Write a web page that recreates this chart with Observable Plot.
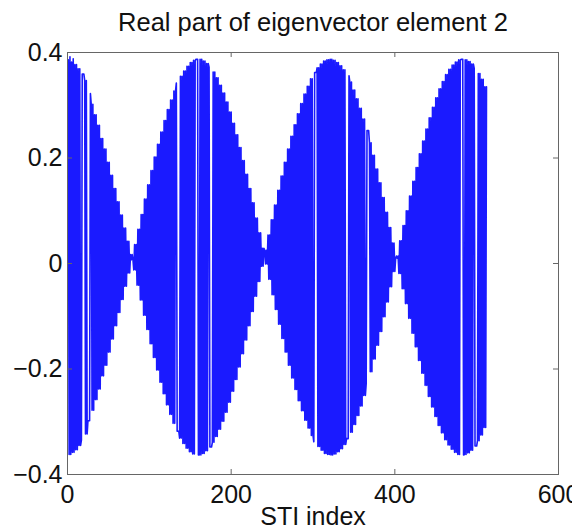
<!DOCTYPE html>
<html><head><meta charset="utf-8">
<script src="https://cdn.jsdelivr.net/npm/d3@7"></script>
<script src="https://cdn.jsdelivr.net/npm/@observablehq/plot@0.6"></script>
<style>
html,body{margin:0;padding:0;background:#fff;}
#chart svg{display:block;}
</style></head><body><div id="chart"></div>
<script>
const title = "Real part of eigenvector element 2";
const xLabel = "STI index";
const xTicks = [0, 200, 400, 600];
const yTicks = [-0.4, -0.2, 0, 0.2, 0.4];
const yTickLabels = ["\u22120.4", "\u22120.2", "0", "0.2", "0.4"];
const xTickLabels = ["0", "200", "400", "600"];
// Real part of eigenvector element 2 for STI index 1..512
const eigReal = [
.386,-.362,.392,-.362, .382,-.358,.388,-.358, .377,-.353,.377,-.353, .369,-.345,.369,-.345,
-.335,.359,.359,.359, .347,-.323,.347,-.323, -.298,-.298,-.298,.322, .302,-.278,.302,-.278,
.282,-.258,.282,-.258, .262,-.238,.262,-.238, .237,-.213,.237,-.213, .217,-.193,.217,-.193,
.192,-.168,.192,-.168, .167,-.143,.167,-.143, .142,-.118,.142,-.118, .117,-.093,.117,-.093,
.092,-.068,.092,-.068, .067,-.043,.067,-.043, .042,-.018,.042,-.018, .017,.007,.017,.007,
-.012,.036,-.012,.036, -.041,.065,-.041,.065, -.069,.093,-.069,.093, -.098,.122,-.098,.122,
-.125,.149,-.125,.149, -.152,.176,-.152,.176, -.178,.202,-.178,.202, -.202,.226,-.202,.226,
-.225,.249,-.225,.249, -.247,.271,-.247,.271, -.268,.292,-.268,.292, -.286,.310,-.286,.310,
-.303,.327,-.303,.327, .342,-.318,-.318,-.318, -.331,.355,-.331,.355, -.341,.365,-.341,.365,
-.350,.374,-.350,.374, -.357,.381,-.357,.381, -.361,.385,-.361,.385, .387,.387,.387,-.363,
-.363,.387,-.363,.387, -.360,.384,-.360,.384, -.355,.379,-.355,.379, .372,-.348,-.348,-.348,
-.339,.363,-.339,.363, -.328,.352,-.328,.352, -.314,.338,-.314,.338, -.299,.323,-.299,.323,
-.282,.306,-.282,.306, -.263,.287,-.263,.287, -.242,.266,-.242,.266, -.220,.244,-.220,.244,
-.196,.220,-.196,.220, -.171,.195,-.171,.195, -.145,.169,-.145,.169, -.118,.142,-.118,.142,
-.091,.115,-.091,.115, -.062,.086,-.062,.086, -.034,.058,-.034,.058, -.005,.029,-.005,.029,
.025,-.001,.025,-.001, .054,-.030,.054,-.030, .083,-.059,.083,-.059, .111,-.087,.111,-.087,
.139,-.115,.139,-.115, .166,-.142,.166,-.142, .192,-.168,.192,-.168, .217,-.193,.217,-.193,
.241,-.217,.241,-.217, .263,-.239,.263,-.239, .284,-.260,.284,-.260, .303,-.279,.303,-.279,
.321,-.297,.321,-.297, .336,-.312,.336,-.312, .350,-.326,.350,-.326, -.338,.362,.362,.362,
.371,-.347,.371,-.347, .378,-.354,.378,-.354, .384,-.360,.384,-.360, .386,-.362,.386,-.362,
.387,-.363,.387,-.363, .385,-.361,.385,-.361, .381,-.357,.381,-.357, .375,-.351,.375,-.351,
.367,-.343,.367,-.343, -.332,-.332,-.332,.356, .344,-.320,.344,-.320, .329,-.305,.329,-.305,
.312,-.288,.312,-.288, .294,-.270,.294,-.270, .274,-.250,.274,-.250, -.228,.252,.252,.252,
.229,-.205,.229,-.205, .205,-.181,.205,-.181, .179,-.155,.179,-.155, .153,-.129,.153,-.129,
.125,-.101,.125,-.101, .097,-.073,.097,-.073, .068,-.044,.068,-.044, .039,-.015,.039,-.015,
.010,.014,.010,.014, -.019,.043,-.019,.043, -.048,.072,-.048,.072, -.076,.100,-.076,.100,
-.104,.128,-.104,.128, -.132,.156,-.132,.156, -.158,.182,-.158,.182, -.184,.208,-.184,.208,
-.208,.232,-.208,.232, -.231,.255,-.231,.255, -.252,.276,-.252,.276, -.272,.296,-.272,.296,
-.290,.314,-.290,.314, -.307,.331,-.307,.331, -.321,.345,-.321,.345, -.334,.358,-.334,.358,
-.344,.368,-.344,.368, -.352,.376,-.352,.376, -.358,.382,-.358,.382, -.362,.386,-.362,.386,
.387,.387,.387,-.363, -.362,.386,-.362,.386, -.359,.383,-.359,.383, -.354,.378,-.354,.378,
.370,-.346,-.346,-.346, -.336,.360,-.336,.360, -.325,.349,-.325,.349, -.311,.335,-.311,.335
];

const W = 572, H = 532, mL = 67, mR = 14, mT = 52, mB = 58;
const plotW = W - mL - mR, plotH = H - mT - mB, tickLen = 5;
const axisColor = "#666";
const font = "'Liberation Sans', Arial, Helvetica, sans-serif";

const chart = Plot.plot({
  width: W, height: H,
  marginLeft: mL, marginRight: mR, marginTop: mT, marginBottom: mB,
  style: {fontFamily: font, fontSize: "25px", background: "#fff", color: "#111"},
  x: {domain: [0, 600]},
  y: {domain: [-0.4, 0.4]},
  marks: [
    Plot.lineY(eigReal, {x: (d, i) => i + 1, y: d => d, stroke: "#1a1aff", strokeWidth: 1.6}),
    Plot.frame({stroke: axisColor, strokeWidth: 1}),
    Plot.tickX(xTicks, {x: d => d, stroke: axisColor, insetTop: plotH - tickLen}),
    Plot.tickX(xTicks, {x: d => d, stroke: axisColor, insetBottom: plotH - tickLen}),
    Plot.tickY(yTicks, {y: d => d, stroke: axisColor, insetRight: plotW - tickLen}),
    Plot.tickY(yTicks, {y: d => d, stroke: axisColor, insetLeft: plotW - tickLen}),
    Plot.axisX({ticks: xTicks, tickSize: 0, tickPadding: 11, label: null, fontSize: 25,
      tickFormat: d => xTickLabels[xTicks.indexOf(d)]}),
    Plot.axisY({ticks: yTicks, tickSize: 0, tickPadding: 5, label: null, fontSize: 25,
      tickFormat: d => yTickLabels[yTicks.indexOf(d)]}),
    Plot.text([xLabel], {text: d => d, frameAnchor: "bottom", dy: 42, lineAnchor: "middle", fontSize: 25, fill: "#111"}),
    Plot.text([title], {text: d => d, frameAnchor: "top", dy: -30, lineAnchor: "middle", fontSize: 25.5, fill: "#111"})
  ]
});
document.getElementById("chart").appendChild(chart);
</script></body></html>
